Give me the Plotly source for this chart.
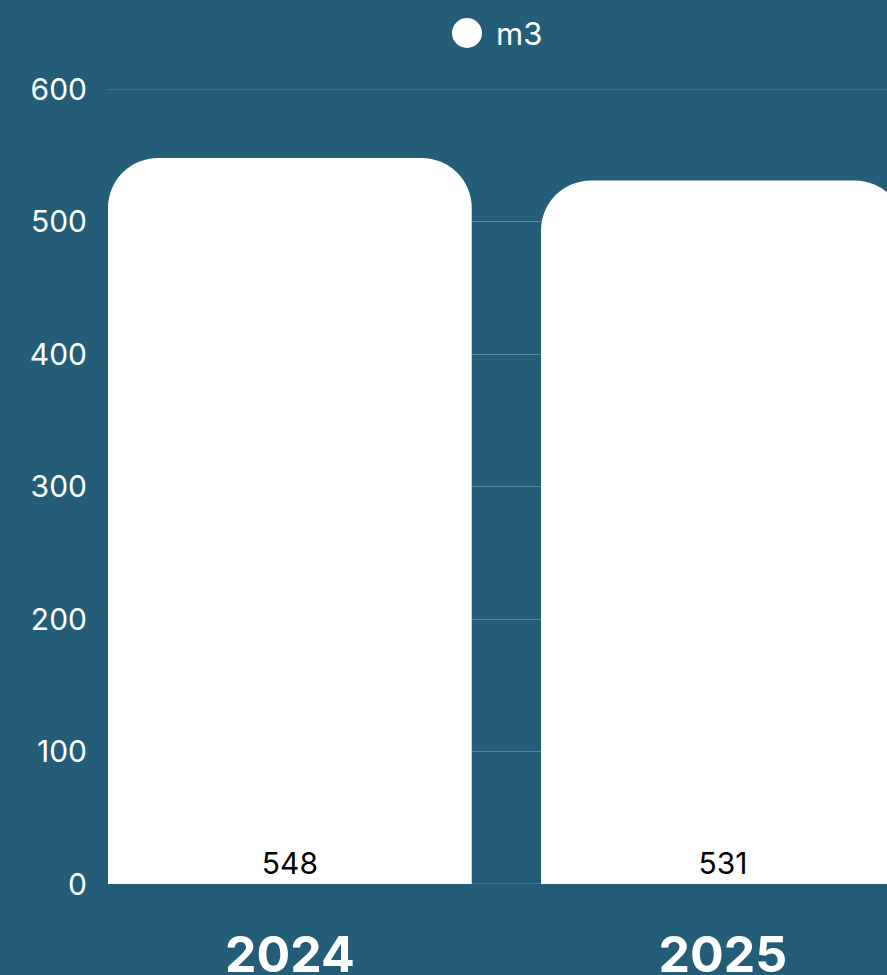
import plotly.graph_objects as go

categories = ["2024", "2025"]
values = [548, 531]
series_name = "m3"
y_ticks = [0, 100, 200, 300, 400, 500, 600]

BG = "#235d78"
GRID = "rgba(255,255,255,0.25)"
FONT = "Inter, Open Sans, sans-serif"
W, H = 887, 975
ML, MR, MT, MB = 108, 0, 89, 91

fig = go.Figure()
fig.add_trace(go.Bar(
    x=categories, y=values, name=series_name, showlegend=False,
    marker=dict(color="white", cornerradius=50, line=dict(width=0)),
    text=[str(v) for v in values], textposition="inside", insidetextanchor="start",
    textfont=dict(color="black", size=30, family=FONT), textangle=0,
    hoverinfo="skip",
))

# legend (circle marker + label) drawn in paper coordinates
pw = W - ML - MR
ph = H - MT - MB
def px_x(x):
    return (x - ML) / pw
def px_y(y):
    return (H - MB - y) / ph

fig.add_shape(type="circle", xref="paper", yref="paper",
              x0=px_x(452), x1=px_x(482), y0=px_y(48), y1=px_y(18),
              fillcolor="white", line=dict(width=0))
fig.add_annotation(text=series_name, xref="paper", yref="paper",
                   x=px_x(494), y=px_y(33), xanchor="left", yanchor="middle",
                   showarrow=False, font=dict(size=31, color="white", family=FONT))
# gridlines at the range edges (top and bottom), drawn beneath the bars
for edge in (y_ticks[0], y_ticks[-1]):
    fig.add_shape(type="line", xref="paper", yref="y", x0=0, x1=1,
                  y0=edge, y1=edge, layer="below",
                  line=dict(color=GRID, width=1))

fig.update_layout(
    width=W, height=H,
    paper_bgcolor=BG, plot_bgcolor=BG,
    margin=dict(l=ML, r=MR, t=MT, b=MB, autoexpand=False),
    bargap=0.16,
    showlegend=False,
    font=dict(family=FONT, color="white"),
    xaxis=dict(range=[-0.42, 1.379], showgrid=False, zeroline=False, showline=False,
               automargin=False,
               tickfont=dict(size=50, color="white", family=FONT, weight="bold"),
               ticklabelstandoff=37),
    yaxis=dict(range=[0, 600], tickvals=y_ticks, showgrid=True,
               gridcolor=GRID, gridwidth=1,
               zeroline=False, showline=False, automargin=False,
               tickfont=dict(size=30, color="white"), ticklabelstandoff=20),
)

fig.write_html("out.html", config={"displayModeBar": False},
               post_script="document.body.style.margin='0';")
